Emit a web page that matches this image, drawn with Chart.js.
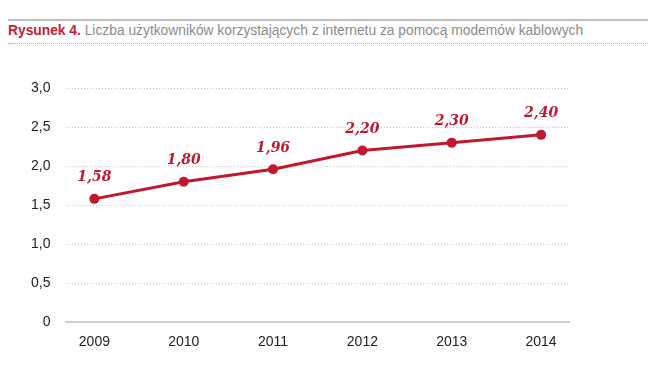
<!DOCTYPE html>
<html>
  <head>
    <meta charset="utf-8">
    <title>Rysunek 4</title>
    <script src="https://cdn.jsdelivr.net/npm/chart.js@4"></script>
    <style>
      body { margin: 0; background: #fff; }
      #wrap { position: relative; width: 655px; height: 375px; }
      #hdr { position: absolute; left: 8px; top: 19px; width: 640px; height: 22px;
             border-top: 2px solid #bdbdbd; border-bottom: 1px dotted #b9a9ab; }
      #hdr span { position: absolute; left: 0; top: 2px; font: 13.8px "Liberation Sans", Arial, sans-serif;
                  color: #8c8c8c; white-space: nowrap; }
      #hdr b { color: #c3203a; font-weight: bold; }
      canvas { position: absolute; left: 0; top: 0; }
    </style>
  </head>
  <body>
    <div id="wrap">
      <div id="hdr"><span><b>Rysunek 4.</b> Liczba użytkowników korzystających z internetu za pomocą modemów kablowych</span></div>
      <canvas id="chart1" width="655" height="375"></canvas>
    </div>
    <script>
      var years  = [2009, 2010, 2011, 2012, 2013, 2014];
      var users  = [1.58, 1.80, 1.96, 2.20, 2.30, 2.40];
      var yTicks = [0, 0.5, 1.0, 1.5, 2.0, 2.5, 3.0];

      var red = '#c0182f';

      function fmt(v, d) {
        return v === 0 ? '0' : v.toFixed(d).replace('.', ',');
      }

      var valueLabels = {
        id: 'valueLabels',
        afterDatasetsDraw: function(chart) {
          var ctx = chart.ctx;
          var meta = chart.getDatasetMeta(0);
          ctx.save();
          ctx.font = 'italic bold 14px "DejaVu Serif", Georgia, serif';
          ctx.fillStyle = red;
          ctx.textAlign = 'center';
          ctx.textBaseline = 'middle';
          meta.data.forEach(function(pt, i) {
            ctx.fillText(fmt(users[i], 2), pt.x, pt.y - 21);
          });
          ctx.restore();
        }
      };

      var ctx = document.getElementById('chart1').getContext('2d');
      new Chart(ctx, {
        type: 'line',
        data: {
          datasets: [{
            data: years.map(function(y, i) { return {x: y, y: users[i]}; }),
            borderColor: red,
            backgroundColor: red,
            borderWidth: 3,
            pointRadius: 5,
            pointBorderWidth: 0,
            tension: 0
          }]
        },
        options: {
          responsive: false,
          animation: false,
          layout: {padding: {top: 88, left: 15, right: 86, bottom: 20}},
          plugins: {legend: {display: false}, tooltip: {enabled: false}},
          scales: {
            x: {
              type: 'linear',
              min: 2008.6875,
              max: 2014.3125,
              afterBuildTicks: function(s) { s.ticks = years.map(function(v) { return {value: v}; }); },
              grid: {display: false},
              border: {display: true, color: '#cfcfcf', width: 2},
              ticks: {
                color: '#222',
                font: {family: '"Liberation Sans", Arial, sans-serif', size: 14},
                padding: 4,
                callback: function(v) { return String(v); }
              }
            },
            y: {
              min: 0,
              max: 3,
              afterBuildTicks: function(s) { s.ticks = yTicks.map(function(v) { return {value: v}; }); },
              grid: {
                color: function(c) { return c.tick && c.tick.value === 0 ? 'rgba(0,0,0,0)' : '#c4c4c4'; },
                lineWidth: 1,
                drawTicks: false
              },
              border: {display: false, dash: [1, 2]},
              ticks: {
                color: '#222',
                font: {family: '"Liberation Sans", Arial, sans-serif', size: 14},
                padding: 16,
                callback: function(v) { return fmt(v, 1); }
              }
            }
          }
        },
        plugins: [valueLabels]
      });
    </script>
  </body>
</html>
